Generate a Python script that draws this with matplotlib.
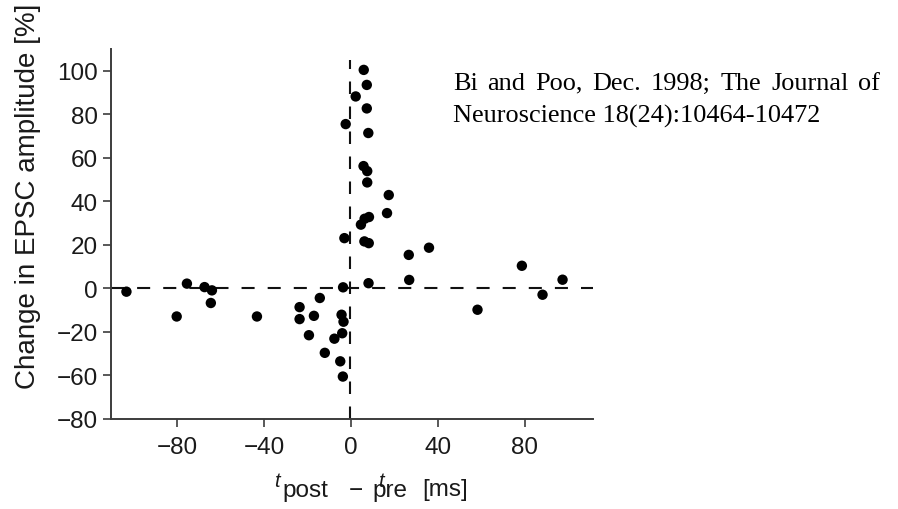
import matplotlib
matplotlib.use("Agg")
import matplotlib.pyplot as plt

# ---- data (x: t_post - t_pre [ms], y: change in EPSC amplitude, linear axis units) ----
dt_ms = [-103.2, -80.1, -75.4, -67.3, -63.9, -64.4, -43.2, -23.6, -23.6, -14.3,
         -17.0, -19.3, -12.0, -7.6, -4.0, -4.9, -3.7, -4.3, -3.4, -3.6,
         8.1, 26.8, 26.6, 35.9, 17.4, 16.6, 58.2, 78.6, 97.3, 88.1,
         5.9, 7.3, 2.2, 7.3, -2.4, 8.0, 5.8, 7.5, 7.5, 8.3,
         6.3, 4.6, -3.0, 6.2, 8.2]
change = [-1.5, -12.9, 2.2, 0.6, -0.9, -6.7, -12.9, -8.6, -14.1, -4.4,
          -12.6, -21.5, -29.6, -23.1, -20.6, -33.5, -40.5, -12.1, -15.3, 0.5,
          2.4, 3.9, 15.4, 18.7, 42.9, 34.6, -9.8, 10.4, 4.0, -2.9,
          100.4, 93.5, 88.2, 82.7, 75.5, 71.4, 56.2, 53.9, 48.7, 32.8,
          32.0, 29.3, 23.1, 21.6, 20.8]

xticks = [-80, -40, 0, 40, 80]
xticklabels = ["\u221280", "\u221240", "0", "40", "80"]
yticks = [-60, -40, -20, 0, 20, 40, 60, 80, 100]
yticklabels = ["\u221280", "\u221260", "\u221220", "0", "20", "40", "60", "80", "100"]

ylabel = "Change in EPSC amplitude [%]"
note_line1 = "Bi and Poo, Dec. 1998; The Journal of"
note_line2 = "Neuroscience 18(24):10464-10472"

plt.rcParams["font.family"] = ["Liberation Sans", "DejaVu Sans"]
plt.rcParams["lines.scale_dashes"] = False

W, H = 898, 510
fig = plt.figure(figsize=(W / 100, H / 100), dpi=100)
ax = fig.add_axes([111 / W, 1 - 420 / H, (593 - 111) / W, (420 - 50) / H])
ax.set_xlim(-110.3, 111.3)
ax.set_ylim(-60, 110)

spine_col = "#3c3c3c"
for s in ("top", "right"):
    ax.spines[s].set_visible(False)
for s in ("left", "bottom"):
    ax.spines[s].set_color(spine_col)
    ax.spines[s].set_linewidth(1.4)

ax.set_xticks(xticks)
ax.set_xticklabels(xticklabels)
ax.set_yticks(yticks)
ax.set_yticklabels(yticklabels)
ax.tick_params(axis="both", direction="out", length=6, width=1.2, color=spine_col,
               labelsize=17.5, labelcolor="#1a1a1a")
ax.tick_params(axis="x", pad=6.5)
ax.tick_params(axis="y", pad=3.5)

# dashed reference lines
ax.axhline(0, color="#111111", lw=1.5, dashes=(9.4, 9.4), zorder=1)
ax.plot([-0.5, -0.5], [-60, 105], color="#111111", lw=1.5, dashes=(9.0, 9.0), zorder=1,
        clip_on=False)

ax.scatter(dt_ms, change, s=56, color="black", edgecolors="none", zorder=3, clip_on=False)

def px(x, y):
    return x / W, 1 - y / H

# y label
fig.text(*px(28, 196), ylabel, rotation=90, ha="center", va="center",
         fontsize=20, color="#1a1a1a")

# x label pieces
tc = "#1a1a1a"
fig.text(*px(274, 487), "t", style="italic", fontsize=14.5, ha="left", va="baseline", color=tc)
fig.text(*px(282, 497), "post", fontsize=17.5, ha="left", va="baseline", color=tc)
fig.text(*px(349, 497), "\u2212", fontsize=17.5, ha="left", va="baseline", color=tc)
fig.text(*px(372, 497), "pre", fontsize=17.5, ha="left", va="baseline", color=tc)
fig.text(*px(378, 487), "t", style="italic", fontsize=14.5, ha="left", va="baseline", color=tc)
fig.text(*px(422, 496), "[ms]", fontsize=17.5, ha="left", va="baseline", color=tc)

# citation note: fit line 2 width, first line justified between x=453 and x=880
serif = ["Liberation Serif", "DejaVu Serif"]
renderer = fig.canvas.get_renderer()
t2 = fig.text(*px(453, 122.7), note_line2, family=serif, fontsize=17, ha="left", va="baseline")
w2 = t2.get_window_extent(renderer).width
note_fs = 17 * (820 - 453) / w2
t2.set_fontsize(note_fs)

words = note_line1.split()
objs = [fig.text(0, 0, w, family=serif, fontsize=note_fs, ha="left", va="baseline")
        for w in words]
widths = [o.get_window_extent(renderer).width for o in objs]
left, right = 453, 880
gap = (right - left - sum(widths)) / (len(words) - 1)
xcur = left
for o, wdt in zip(objs, widths):
    o.set_position(px(xcur, 89.5))
    xcur += wdt + gap

fig.savefig("out.png", dpi=100)
